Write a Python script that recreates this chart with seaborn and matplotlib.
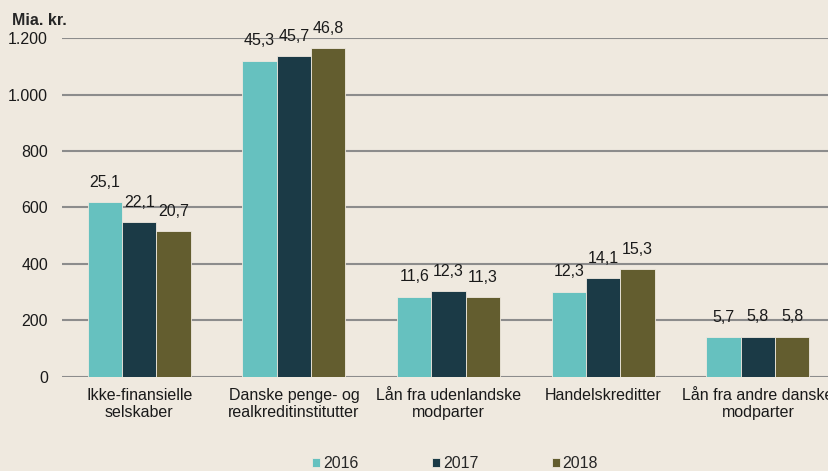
import matplotlib
matplotlib.use("Agg")
import matplotlib.pyplot as plt
import seaborn as sns
import pandas as pd

categories = ["Ikke-finansielle\nselskaber", "Danske penge- og\nrealkreditinstitutter",
              "Lån fra udenlandske\nmodparter", "Handelskreditter",
              "Lån fra andre danske\nmodparter"]
years = ["2016", "2017", "2018"]
values_2016 = [619, 1120, 284, 302, 141]
values_2017 = [549, 1137, 305, 350, 143]
values_2018 = [517, 1165, 282, 381, 143]
labels_2016 = ["25,1", "45,3", "11,6", "12,3", "5,7"]
labels_2017 = ["22,1", "45,7", "12,3", "14,1", "5,8"]
labels_2018 = ["20,7", "46,8", "11,3", "15,3", "5,8"]

bg = "#EFE9DF"
colors = ["#66C1BF", "#1B3A46", "#635D2F"]

rows = []
for year, vals in zip(years, [values_2016, values_2017, values_2018]):
    for cat, v in zip(categories, vals):
        rows.append({"kategori": cat, "år": year, "værdi": v})
df = pd.DataFrame(rows)

sns.set_style("white")
plt.rcParams["font.family"] = ["Liberation Sans", "DejaVu Sans"]

fig = plt.figure(figsize=(8.29, 4.71), dpi=100, facecolor=bg)
ax = fig.add_axes([0.0748, 0.1996, 0.9252, 0.7197], facecolor=bg)

sns.barplot(data=df, x="kategori", y="værdi", hue="år", order=categories,
            hue_order=years, palette=colors, saturation=1, width=0.666, ax=ax,
            edgecolor=bg, linewidth=0.6, legend=True, zorder=3)

# data labels above every bar
all_labels = [labels_2016, labels_2017, labels_2018]
for container, labs in zip(ax.containers, all_labels):
    for bar, lab in zip(container, labs):
        ax.annotate(lab, (bar.get_x() + bar.get_width() / 2, bar.get_height()),
                    xytext=(0, 11), textcoords="offset points",
                    ha="center", va="baseline", fontsize=11.5, color="#1a1a1a")

ax.set_ylim(0, 1200)
ax.set_yticks(range(0, 1201, 200))
ax.set_yticklabels(["0", "200", "400", "600", "800", "1.000", "1.200"])
ax.set_xlim(-0.5, 4.46)
ax.yaxis.grid(True, color="#8C8C8C", linewidth=1.5, zorder=0)
ax.set_axisbelow(True)
for s in ax.spines.values():
    s.set_visible(False)
ax.tick_params(axis="both", length=0, labelsize=11.5, labelcolor="#1a1a1a")
ax.tick_params(axis="x", pad=8)
ax.tick_params(axis="y", pad=10)
ax.set_xlabel("")
ax.set_ylabel("")

fig.text(0.0145, 0.957, "Mia. kr.", fontsize=11.5, fontweight="bold", va="center", ha="left")

handles, lbls = ax.get_legend_handles_labels()
ax.get_legend().remove()
fig.legend(handles, lbls, loc="center", bbox_to_anchor=(0.549, 0.016), ncol=3,
           frameon=False, fontsize=11.5, handlelength=0.5, handleheight=0.5,
           handletextpad=0.19, columnspacing=4.6)

fig.savefig("out.png", dpi=100, facecolor=bg)
